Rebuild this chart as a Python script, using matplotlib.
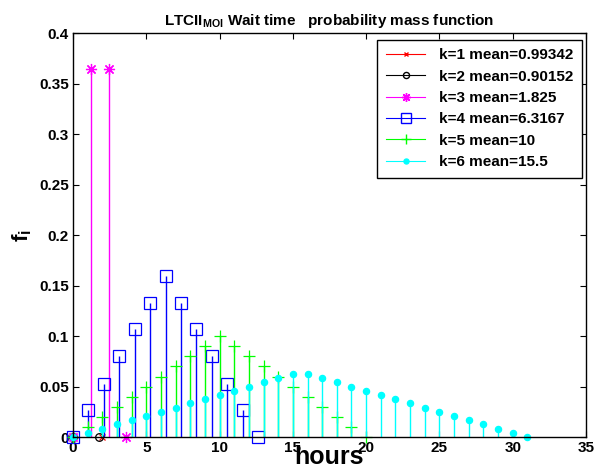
import matplotlib
matplotlib.use("Agg")
import matplotlib.pyplot as plt
from matplotlib.lines import Line2D

plt.rcParams['font.family'] = ['Liberation Sans', 'DejaVu Sans']
plt.rcParams['font.weight'] = 'bold'
plt.rcParams['mathtext.fontset'] = 'custom'
plt.rcParams['mathtext.rm'] = 'Liberation Sans:bold'
plt.rcParams['mathtext.bf'] = 'Liberation Sans:bold'
plt.rcParams['mathtext.it'] = 'Liberation Sans:bold'

# wait time (hours) and probability mass for each k
k1_x = [0, 1.98684]
k1_f = [0, 0]
k2_x = [0, 1.80304]
k2_f = [0, 0]
k3_x = [0, 1.2167, 2.4333, 3.65]
k3_f = [0, 0.365, 0.365, 0]
k4_x = [0, 1.053, 2.106, 3.158, 4.211, 5.264, 6.317, 7.369, 8.422, 9.475, 10.528, 11.581, 12.633]
k4_f = [0, 0.027, 0.053, 0.08, 0.107, 0.133, 0.16, 0.133, 0.107, 0.08, 0.053, 0.027, 0]
k5_x = [0, 1, 2, 3, 4, 5, 6, 7, 8, 9, 10, 11, 12, 13, 14, 15, 16, 17, 18, 19, 20]
k5_f = [0, 0.01, 0.02, 0.03, 0.04, 0.05, 0.06, 0.07, 0.08, 0.09, 0.1,
        0.09, 0.08, 0.07, 0.06, 0.05, 0.04, 0.03, 0.02, 0.01, 0]
k6_x = [0, 1, 2, 3, 4, 5, 6, 7, 8, 9, 10, 11, 12, 13, 14, 15,
        16, 17, 18, 19, 20, 21, 22, 23, 24, 25, 26, 27, 28, 29, 30, 31]
k6_f = [0, 0.0042, 0.0083, 0.0125, 0.0167, 0.0208, 0.025, 0.0292, 0.0333, 0.0375, 0.0417,
        0.0458, 0.05, 0.0542, 0.0583, 0.0625, 0.0625, 0.0583, 0.0542, 0.05, 0.0458,
        0.0417, 0.0375, 0.0333, 0.0292, 0.025, 0.0208, 0.0167, 0.0125, 0.0083, 0.0042, 0]

labels = ['k=1 mean=0.99342', 'k=2 mean=0.90152', 'k=3 mean=1.825',
          'k=4 mean=6.3167', 'k=5 mean=10', 'k=6 mean=15.5']

series = [
    (k1_x, k1_f, '#ff0000', 'x', 4, 'none'),
    (k2_x, k2_f, '#000000', 'o', 5.5, 'none'),
    (k3_x, k3_f, '#ff00ff', (8, 2, 0), 8, 'none'),
    (k4_x, k4_f, '#0000ff', 's', 8.5, 'none'),
    (k5_x, k5_f, '#00ff00', '+', 9, 'none'),
    (k6_x, k6_f, '#00ffff', 'o', 4.5, '#00ffff'),
]

fig = plt.figure(figsize=(5.98, 4.68), dpi=100)
ax = fig.add_axes([0.122, 0.066, 0.858, 0.863])

handles = []
for (x, f, c, m, ms, fc), lab in zip(series, labels):
    ax.vlines(x, 0, f, colors=c, linewidth=1.0)
    ax.plot(x, f, linestyle='none', marker=m, markersize=ms, color=c,
            markerfacecolor=fc, markeredgecolor=c, markeredgewidth=0.9, clip_on=False)
    handles.append(Line2D([0, 1, 2], [0, 0, 0], color=c, linewidth=0.8, marker=m,
                          markersize=ms * 0.8, markerfacecolor=fc, markeredgecolor=c,
                          markevery=[2], label=lab))

ax.set_xlim(0, 35)
ax.set_ylim(0, 0.4)
ax.set_xticks([0, 5, 10, 15, 20, 25, 30, 35])
ax.set_yticks([0, 0.05, 0.1, 0.15, 0.2, 0.25, 0.3, 0.35, 0.4])
ax.set_yticklabels(['0', '0.05', '0.1', '0.15', '0.2', '0.25', '0.3', '0.35', '0.4'])
ax.tick_params(direction='in', length=4, width=0.8, top=True, right=True,
               labelsize=11, pad=3)
for sp in ax.spines.values():
    sp.set_linewidth(1.0)

ax.set_title(r'LTCII$_{\mathrm{MOI}}$ Wait time   probability mass function',
             fontsize=11, fontweight='bold', pad=6)
ax.set_xlabel('hours', fontsize=18, fontweight='bold')
ax.xaxis.set_label_coords(0.5, -0.02)
ax.set_ylabel(r'$\mathrm{f_i}$', fontsize=16)
ax.yaxis.set_label_coords(-0.075, 0.5)

ax.legend(handles=handles, loc='upper right', bbox_to_anchor=(0.992, 0.983),
          numpoints=1, prop={'weight': 'bold', 'size': 11},
          frameon=True, fancybox=False, edgecolor='black', framealpha=1,
          borderaxespad=0, handlelength=2.6, handletextpad=0.9,
          labelspacing=0.48, borderpad=0.55)

fig.savefig('out.png', dpi=100)
